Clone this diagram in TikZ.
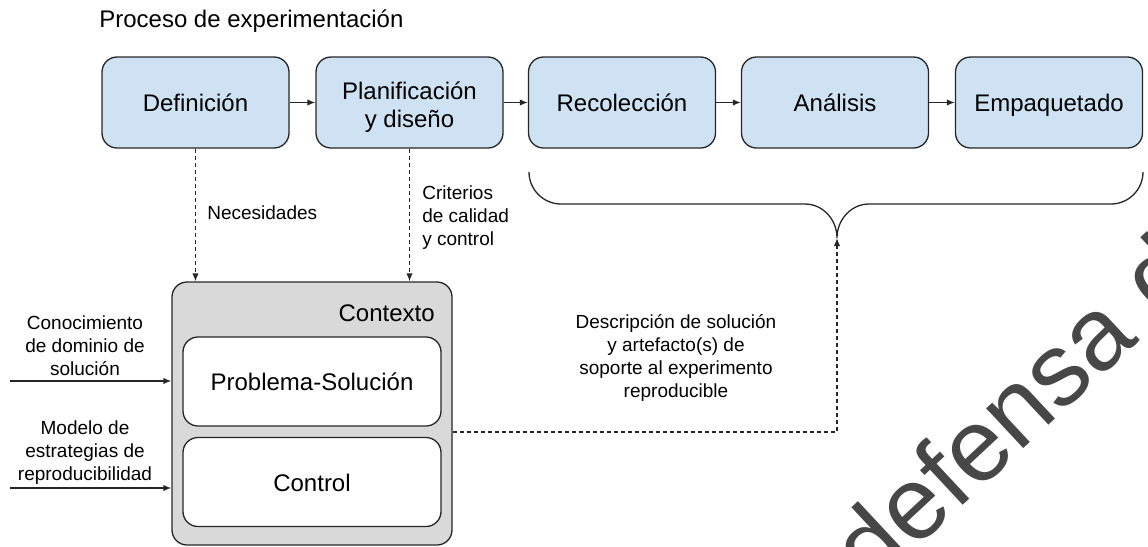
\documentclass[tikz,border=0pt]{standalone}
\usepackage{fontspec}
\setmainfont{Liberation Sans}
\usetikzlibrary{arrows.meta}

\definecolor{stageblue}{HTML}{CFE2F3}
\definecolor{ctxgray}{HTML}{D9D9D9}
\definecolor{linegray}{HTML}{262626}

\tikzset{
  lbl/.style={align=center, font=\fontsize{9.5}{11.5}\selectfont},
  dashline/.style={dash pattern=on 2pt off 1.5pt},
  oneline/.style={text height=0.93em, text depth=0pt},
}

\begin{document}
\begin{tikzpicture}[x=0.5pt, y=-0.5pt, line width=0.65pt, draw=linegray,
    >={Latex[length=4pt,width=3.2pt]}]

  \useasboundingbox (0,0) rectangle (1148,547);

  \node[anchor=west, font=\fontsize{12}{14}\selectfont] (title) at (92,21) {Proceso de experimentación};

  \begin{scope}[every node/.style={draw=linegray, rounded corners=7.5pt, fill=stageblue,
      minimum width=93.5pt, minimum height=45.5pt, align=center,
      font=\fontsize{12}{14}\selectfont}]
    \node[oneline] (def)  at (195.5,102.5) {Definición};
    \node (plan) at (409.5,102.5) {\rule{0pt}{1.1em}Planificación\\y diseño};
    \node[oneline] (rec)  at (622,102.5)   {Recolección};
    \node[oneline] (ana)  at (835,102.5)   {Análisis};
    \node[oneline] (emp)  at (1049,102.5)  {Empaquetado};
  \end{scope}

  \begin{scope}[every edge/.style={draw=linegray, ->}]
    \path (def)  edge (plan);
    \path (plan) edge (rec);
    \path (rec)  edge (ana);
    \path (ana)  edge (emp);
  \end{scope}

  % contexto
  \node[draw=linegray, rounded corners=7.5pt, fill=ctxgray, minimum width=140pt,
    minimum height=131.5pt] (ctx) at (312,413.5) {};
  \node[anchor=east, font=\fontsize{12}{14}\selectfont] (ctxlbl) at (442,313) {Contexto};

  \begin{scope}[every node/.style={draw=linegray, rounded corners=7.5pt, fill=white,
      minimum width=129pt, minimum height=44.5pt, font=\fontsize{12}{14}\selectfont}]
    \node[oneline] (ps)   at (312,381.5) {Problema-Solución};
    \node[oneline] (ctrl) at (312,482)   {Control};
  \end{scope}

  % entradas
  \coordinate (in1) at (10,381);
  \coordinate (in2) at (10,488);
  \draw[->] (in1) -- (in1 -| ctx.west);
  \draw[->] (in2) -- (in2 -| ctx.west);
  \node[lbl] (know)  at (85,346) {Conocimiento\\de dominio de\\solución};
  \node[lbl] (model) at (85,453) {Modelo de\\estrategias de\\reproducibilidad};

  \draw[->, dashline] (def.south)  -- (def.south |- ctx.north);
  \draw[->, dashline] (plan.south) -- (plan.south |- ctx.north);
  \node[lbl, anchor=west] (needs) at (200,213) {Necesidades};
  \node[lbl, anchor=west, align=left] (crit) at (415,218) {Criterios\\de calidad\\y control};

  % llave
  \coordinate (tip) at (837,238);
  \draw (529,172) .. controls (529,189.6) and (543.4,204) .. (561,204) -- (805,204)
    .. controls (822.6,204) and (837,219.3) .. (tip)
    .. controls (837,219.3) and (851.4,204) .. (869,204) -- (1111,204)
    .. controls (1128.6,204) and (1143,189.6) .. (1143,172);

  \coordinate (gap) at (312,432);
  \draw[->, dashline] (ctx.east |- gap) -| (tip);
  \node[lbl] (desc) at (676,358) {Descripción de solución\\y artefacto(s) de\\soporte al experimento\\reproducible};

  \node[rotate=43, anchor=base west, text=black!72,
    font=\fontsize{51.5}{52}\selectfont] (mark) at (867,595) {defensa d};

\end{tikzpicture}
\end{document}
